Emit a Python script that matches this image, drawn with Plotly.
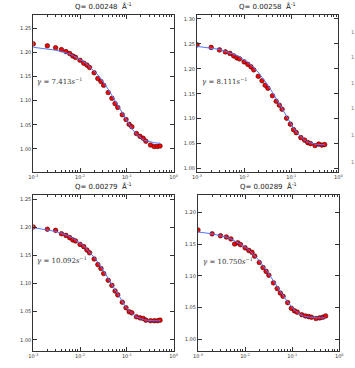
import plotly.graph_objects as go

# lag times (s)
tau = [0.001, 0.002, 0.003, 0.004, 0.005, 0.006, 0.007, 0.008,
       0.010, 0.012, 0.014, 0.016, 0.020, 0.024, 0.028, 0.032,
       0.040, 0.048, 0.056, 0.064, 0.080, 0.096, 0.112, 0.128,
       0.160, 0.192, 0.224, 0.256, 0.320, 0.384, 0.448, 0.512]

q_labels = ["0.00248", "0.00258", "0.00279", "0.00289"]
gamma_labels = ["7.413", "8.111", "10.092", "10.750"]

g2_q1 = [1.218, 1.214, 1.210, 1.206, 1.202, 1.198, 1.193, 1.190,
         1.184, 1.178, 1.174, 1.169, 1.158, 1.146, 1.140, 1.132,
         1.117, 1.105, 1.094, 1.086, 1.071, 1.061, 1.051, 1.046,
         1.032, 1.026, 1.022, 1.016, 1.008, 1.005, 1.005, 1.006]
fit_q1 = [1.211, 1.208, 1.205, 1.202, 1.200, 1.197, 1.194, 1.191,
          1.186, 1.181, 1.176, 1.171, 1.162, 1.154, 1.145, 1.138,
          1.124, 1.111, 1.100, 1.090, 1.074, 1.061, 1.050, 1.042,
          1.031, 1.024, 1.019, 1.017, 1.014, 1.013, 1.012, 1.012]

g2_q2 = [1.248, 1.243, 1.238, 1.234, 1.231, 1.226, 1.222, 1.220,
         1.214, 1.209, 1.204, 1.198, 1.185, 1.176, 1.167, 1.161,
         1.146, 1.135, 1.127, 1.119, 1.101, 1.089, 1.078, 1.072,
         1.062, 1.057, 1.052, 1.050, 1.046, 1.049, 1.047, 1.048]
fit_q2 = [1.245, 1.242, 1.239, 1.235, 1.232, 1.229, 1.227, 1.224,
          1.218, 1.213, 1.207, 1.202, 1.193, 1.183, 1.175, 1.167,
          1.153, 1.140, 1.129, 1.119, 1.103, 1.090, 1.081, 1.073,
          1.063, 1.057, 1.053, 1.051, 1.049, 1.048, 1.048, 1.048]

g2_q3 = [1.201, 1.197, 1.195, 1.189, 1.186, 1.182, 1.178, 1.176,
         1.170, 1.166, 1.160, 1.155, 1.144, 1.134, 1.127, 1.118,
         1.106, 1.097, 1.087, 1.080, 1.067, 1.057, 1.050, 1.048,
         1.041, 1.039, 1.038, 1.035, 1.034, 1.034, 1.034, 1.035]
fit_q3 = [1.200, 1.196, 1.193, 1.190, 1.187, 1.184, 1.181, 1.178,
          1.172, 1.167, 1.161, 1.156, 1.147, 1.138, 1.130, 1.123,
          1.109, 1.098, 1.089, 1.080, 1.068, 1.058, 1.052, 1.047,
          1.041, 1.038, 1.036, 1.035, 1.034, 1.034, 1.034, 1.034]

g2_q4 = [1.172, 1.166, 1.163, 1.161, 1.158, 1.150, 1.152, 1.149,
         1.144, 1.140, 1.137, 1.131, 1.121, 1.113, 1.107, 1.101,
         1.089, 1.080, 1.073, 1.068, 1.058, 1.049, 1.045, 1.043,
         1.039, 1.037, 1.036, 1.035, 1.033, 1.034, 1.035, 1.037]
fit_q4 = [1.169, 1.166, 1.163, 1.161, 1.158, 1.155, 1.153, 1.150,
          1.145, 1.141, 1.136, 1.132, 1.124, 1.116, 1.110, 1.103,
          1.092, 1.083, 1.075, 1.069, 1.059, 1.052, 1.046, 1.043,
          1.038, 1.036, 1.035, 1.035, 1.034, 1.034, 1.034, 1.034]

y_ranges = [[0.952, 1.278], [0.993, 1.308], [0.980, 1.258], [0.982, 1.227]]

x_tickvals = [0.001, 0.01, 0.1, 1]
x_ticktext = ["10<sup>-3</sup>", "10<sup>-2</sup>", "10<sup>-1</sup>", "10<sup>0</sup>"]

W, H = 355, 368
# pixel boxes (left, right, top, bottom)
boxes = [(29, 173, 15, 172), (197, 342, 15, 172),
         (29, 173, 195, 351), (198, 343, 195, 351)]
gamma_pos = [(31, 81), (200, 81), (31, 260), (201, 261)]

data_sets = [g2_q1, g2_q2, g2_q3, g2_q4]
fit_sets = [fit_q1, fit_q2, fit_q3, fit_q4]

fig = go.Figure()
font = "DejaVu Sans"
annotations = []
layout = dict(width=W, height=H, margin=dict(l=0, r=0, t=0, b=0),
              paper_bgcolor="white", plot_bgcolor="white", showlegend=False,
              font=dict(family=font, size=6, color="#222"))

for i in range(4):
    n = "" if i == 0 else str(i + 1)
    xa, ya = "x" + n, "y" + n
    l, r, t, b = boxes[i]
    fig.add_trace(go.Scatter(x=tau, y=data_sets[i], mode="markers", xaxis=xa, yaxis=ya,
                             marker=dict(color="#ff0000", size=4.6,
                                         line=dict(color="#330000", width=0.6))))
    fig.add_trace(go.Scatter(x=tau, y=fit_sets[i], mode="lines", xaxis=xa, yaxis=ya,
                             line=dict(color="#5577ff", width=1)))
    layout["xaxis" + n] = dict(
        type="log", range=[-3, 0], domain=[l / W, r / W], anchor=ya,
        showline=True, linecolor="#333", linewidth=1, mirror="ticks",
        ticks="inside", ticklen=4, tickcolor="#333",
        tickvals=x_tickvals, ticktext=x_ticktext,
        tickfont=dict(size=5, family=font, color="#333"),
        showgrid=False, zeroline=False,
        minor=dict(ticks="inside", ticklen=2, tickcolor="#333", dtick="D1", showgrid=False))
    layout["yaxis" + n] = dict(
        range=y_ranges[i], domain=[1 - b / H, 1 - t / H], anchor=xa,
        showline=True, linecolor="#333", linewidth=1, mirror="ticks",
        ticks="inside", ticklen=4, tickcolor="#333",
        tick0=1.0, dtick=0.05, tickformat=".2f",
        tickfont=dict(size=5, family=font, color="#333"),
        showgrid=False, zeroline=False)
    annotations.append(dict(
        xref="paper", yref="paper", x=(l + r) / 2 / W, y=1 - (t - 2) / H,
        xanchor="center", yanchor="bottom", showarrow=False,
        text="Q= " + q_labels[i] + "  Å<sup>-1</sup>",
        font=dict(size=7, family=font, color="#222")))
    gx, gy = gamma_pos[i]
    annotations.append(dict(
        xref="paper", yref="paper", x=gx / W, y=1 - gy / H,
        xanchor="left", yanchor="middle", showarrow=False,
        text="<i>γ</i> = " + gamma_labels[i] + "<i>s</i><sup>−1</sup>",
        font=dict(size=7, family="DejaVu Serif", color="#333")))

# partially visible tick labels of the next (cropped) panel column
edge_labels = ["1.30", "1.25", "1.20", "1.15", "1.10", "1.05"]
edge_y = [32, 57, 83, 108, 135, 162]
for lab, yy in zip(edge_labels, edge_y):
    annotations.append(dict(xref="paper", yref="paper", x=352.5 / W, y=1 - yy / H,
                            xanchor="left", yanchor="middle", showarrow=False,
                            text=lab, font=dict(size=5, family=font, color="#777")))

layout["annotations"] = annotations
fig.update_layout(**layout)
fig.write_html("out.html", config={"displayModeBar": False},
               post_script="document.body.style.margin='0';document.body.style.overflow='hidden';")
